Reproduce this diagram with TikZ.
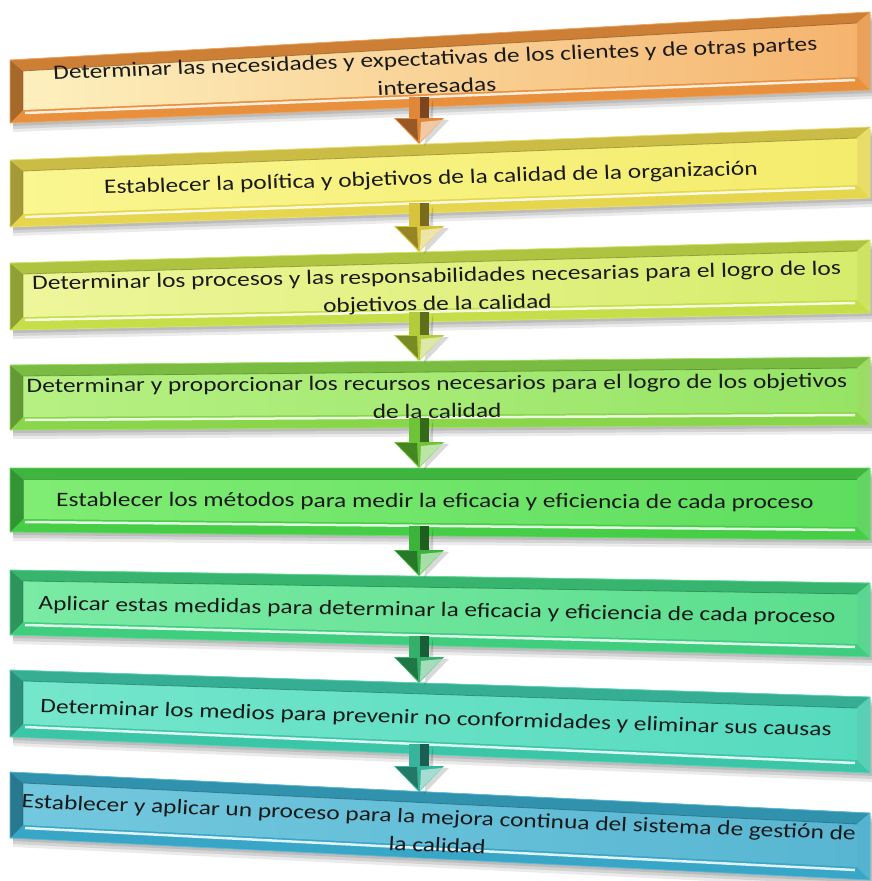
\documentclass[tikz,border=0pt]{standalone}
\usepackage{fontspec}
\setmainfont{Carlito}
\usetikzlibrary{calc}

\definecolor{fA}{HTML}{E8903C}\definecolor{lA}{HTML}{FDF0BE}\definecolor{rA}{HTML}{F5B46E}
\definecolor{fB}{HTML}{E6D64E}\definecolor{lB}{HTML}{FAF690}\definecolor{rB}{HTML}{F4EC6C}
\definecolor{fC}{HTML}{C6DE48}\definecolor{lC}{HTML}{EEF69A}\definecolor{rC}{HTML}{D6EC6C}
\definecolor{fD}{HTML}{8AD64A}\definecolor{lD}{HTML}{B6F082}\definecolor{rD}{HTML}{96E466}
\definecolor{fE}{HTML}{46CE46}\definecolor{lE}{HTML}{80EC74}\definecolor{rE}{HTML}{5EDE5E}
\definecolor{fF}{HTML}{3ECE7E}\definecolor{lF}{HTML}{7AEAA4}\definecolor{rF}{HTML}{5CDE8E}
\definecolor{fG}{HTML}{3CC6A8}\definecolor{lG}{HTML}{74E6CC}\definecolor{rG}{HTML}{56DABE}
\definecolor{fH}{HTML}{38A6C6}\definecolor{lH}{HTML}{72C8DE}\definecolor{rH}{HTML}{58B6D2}
\definecolor{aA}{HTML}{E08838}\definecolor{dA}{HTML}{7A4520}
\definecolor{aB}{HTML}{D8C43C}\definecolor{dB}{HTML}{7A6A1C}
\definecolor{aC}{HTML}{B4CC3C}\definecolor{dC}{HTML}{5E6E1A}
\definecolor{aD}{HTML}{6EC438}\definecolor{dD}{HTML}{346A18}
\definecolor{aE}{HTML}{3CB43C}\definecolor{dE}{HTML}{1E5E1E}
\definecolor{aF}{HTML}{34B06A}\definecolor{dF}{HTML}{185E36}
\definecolor{aG}{HTML}{38B49C}\definecolor{dG}{HTML}{1A6052}
\definecolor{txtc}{HTML}{1A1A1A}

% #1 name, #2 left top y, #3 left bottom y, #4 right top y, #5 right bottom y, #6 frame, #7 face left, #8 face right
\newcommand{\bevbar}[8]{%
  \coordinate (#1-tl) at (10,#2);
  \coordinate (#1-bl) at (10,#3);
  \coordinate (#1-tr) at (870,#4);
  \coordinate (#1-br) at (870,#5);
  \coordinate (#1-itl) at (23,{#2+11});
  \coordinate (#1-ibl) at (23,{#3-13});
  \coordinate (#1-itr) at (857,{#4+11});
  \coordinate (#1-ibr) at (857,{#5-13});
  \foreach \o/\op in {3/0.10,6/0.10,9/0.08}{
    \fill[black,opacity=\op] ($(#1-tl)+(3,\o)$) -- ($(#1-tr)+(3,\o)$) -- ($(#1-br)+(3,\o)$) -- ($(#1-bl)+(3,\o)$) -- cycle;
  }
  \fill[#6] (#1-tl) -- (#1-tr) -- (#1-br) -- (#1-bl) -- cycle;
  \fill[#6!72!black] (#1-tl) -- (#1-itl) -- (#1-ibl) -- (#1-bl) -- cycle;
  \fill[#6!88!black] (#1-tl) -- (#1-tr) -- (#1-itr) -- (#1-itl) -- cycle;
  \fill[#6!85!white] (#1-tr) -- (#1-br) -- (#1-ibr) -- (#1-itr) -- cycle;
  \shade[left color=#7, right color=#8] (#1-itl) -- (#1-itr) -- (#1-ibr) -- (#1-ibl) -- cycle;
  \draw[#6!55!black, line width=0.8pt, opacity=0.6] (#1-ibl) -- (#1-itl) -- (#1-itr);
  \draw[white, line width=2.5pt, opacity=0.85] ($(#1-ibl)+(2,3)$) -- ($(#1-ibr)+(-2,3)$);
  \draw[#6!80!white, line width=0.8pt] (#1-tl) -- (#1-tr) -- (#1-br) -- (#1-bl) -- cycle;
}

% #1 start coord, #2 tip coord, #3 colour, #4 dark colour
\newcommand{\downarr}[4]{%
  \fill[black,opacity=0.15] ($(#1)+(14,2)$) -- ($(#2)+(14,-24)$) -- ($(#2)+(30,-24)$) -- ($(#2)+(5,2)$) -- cycle;
  \fill[#3] ($(#1)+(-10,0)$) -- ($(#2)+(-10,-26)$) -- ($(#2)+(-25,-26)$) -- (#2) -- ($(#2)+(25,-26)$) -- ($(#2)+(10,-26)$) -- ($(#1)+(10,0)$) -- cycle;
  \fill[#4] ($(#1)+(1,0)$) -- ($(#2)+(1,-26)$) -- ($(#2)+(10,-26)$) -- ($(#1)+(10,0)$) -- cycle;
  \fill[#3!45!white] ($(#2)+(2,-22)$) -- ($(#2)+(23,-24)$) -- ($(#2)+(1,-2)$) -- cycle;
  \fill[#4!70!#3] ($(#2)+(-23,-25)$) -- ($(#2)+(-2,-25)$) -- ($(#2)+(-1,-3)$) -- cycle;
}

\tikzset{
  txt/.style={text=txtc, align=center, inner sep=0pt, xscale=1.24, transform shape,
    font=\fontsize{20.5}{28}\selectfont},
}

\begin{document}
\begin{tikzpicture}[x=1pt, y=-1pt]
\useasboundingbox (0,0) rectangle (872,881);
\fill[white] (0,0) rectangle (872,881);

\bevbar{b1}{60}{123}{12}{90}{fA}{lA}{rA}
\bevbar{b2}{160}{227}{127}{198}{fB}{lB}{rB}
\bevbar{b3}{263}{330}{240}{313}{fC}{lC}{rC}
\bevbar{b4}{365}{430}{357}{425}{fD}{lD}{rD}
\bevbar{b5}{468}{532}{468}{540}{fE}{lE}{rE}
\bevbar{b6}{570}{635}{583}{657}{fF}{lF}{rF}
\bevbar{b7}{670}{737}{697}{773}{fG}{lG}{rG}
\bevbar{b8}{772}{838}{813}{880}{fH}{lH}{rH}

\coordinate (s1) at (419,97);  \coordinate (e1) at (419,144);
\coordinate (s2) at (419,203); \coordinate (e2) at (419,252);
\coordinate (s3) at (419,312); \coordinate (e3) at (419,361);
\coordinate (s4) at (419,418); \coordinate (e4) at (419,468);
\coordinate (s5) at (419,526); \coordinate (e5) at (419,576);
\coordinate (s6) at (419,636); \coordinate (e6) at (419,683);
\coordinate (s7) at (419,744); \coordinate (e7) at (419,792);
\downarr{s1}{e1}{aA}{dA}
\downarr{s2}{e2}{aB}{dB}
\downarr{s3}{e3}{aC}{dC}
\downarr{s4}{e4}{aD}{dD}
\downarr{s5}{e5}{aE}{dE}
\downarr{s6}{e6}{aF}{dF}
\downarr{s7}{e7}{aG}{dG}

\node[txt, rotate=2.7]  (t1) at (436,72)  {Determinar las necesidades y expectativas de los clientes y de otras partes\\interesadas};
\node[txt, rotate=2.06] (t2) at (431,179) {Establecer la política y objetivos de la calidad de la organización};
\node[txt, rotate=1.33] (t3) at (437,291) {Determinar los procesos y las responsabilidades necesarias para el logro de los\\objetivos de la calidad};
\node[txt, rotate=0.43] (t4) at (437,397) {Determinar y proporcionar los recursos necesarios para el logro de los objetivos\\de la calidad};
\node[txt, rotate=-0.27] (t5) at (435,502) {Establecer los métodos para medir la eficacia y eficiencia de cada proceso};
\node[txt, rotate=-1.17] (t6) at (437,611) {Aplicar estas medidas para determinar la eficacia y eficiencia de cada proceso};
\node[txt, rotate=-2.1] (t7) at (436,719) {Determinar los medios para prevenir no conformidades y eliminar sus causas};
\node[txt, rotate=-2.76] (t8) at (438,831) {Establecer y aplicar un proceso para la mejora continua del sistema de gestión de\\la calidad};
\end{tikzpicture}
\end{document}
